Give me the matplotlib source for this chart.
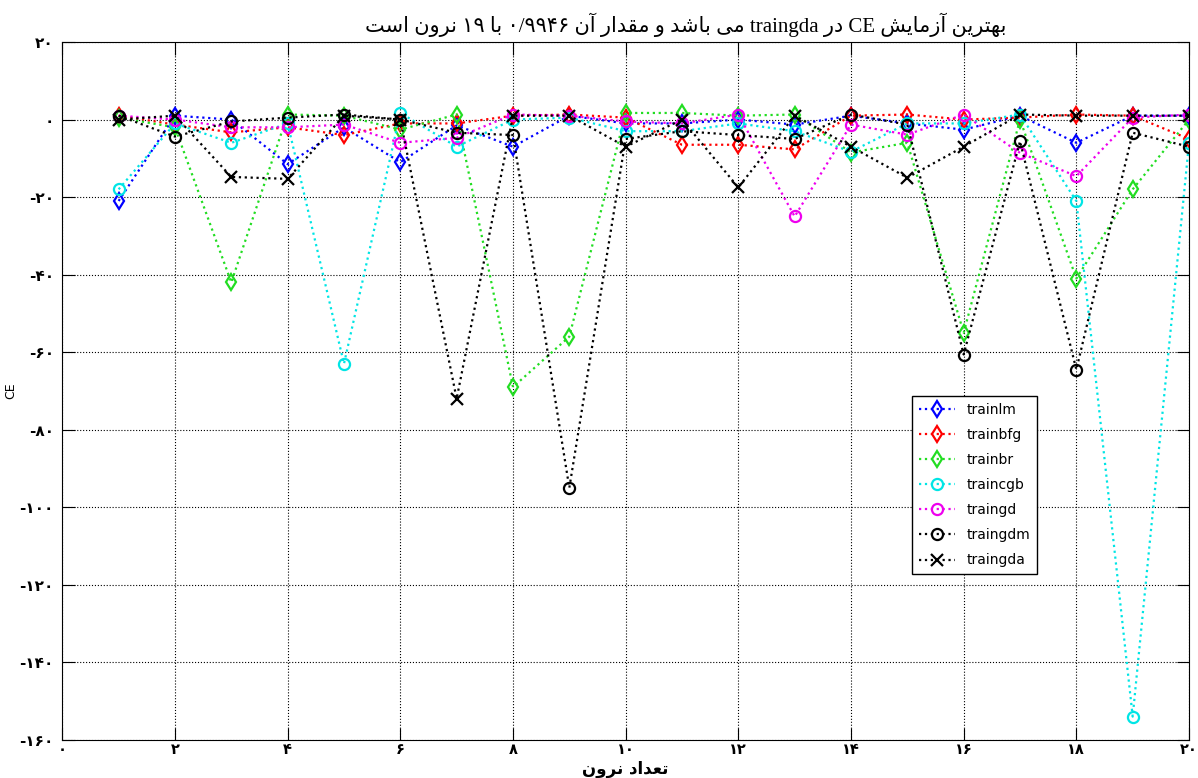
import numpy as np
import matplotlib
matplotlib.use("Agg")
import matplotlib.pyplot as plt

# neuron counts and CE of each training function
neurons = list(range(1, 21))

trainlm = [-21, 1, 0, -11.5, -2, -11, -1.5, -7, 1, -1, -1, 0, -1.3, 1, -1, -2.6, 1, -6, 1, 1]
trainbfg = [1, -1.3, -3.3, -2, -4, -1, -1, 1, 1.3, 0.5, -6.5, -6.5, -7.7, 1, 1.3, 0, 0.5, 1.3, 1, -5]
trainbr = [0.5, -2, -42, 1.3, 1, -2.6, 1.3, -69, -56, 1.7, 1.7, 1, 1.3, -8.5, -6, -55, 0, -41, -18, 0]
traincgb = [-18, -1, -6, -1, -63, 1.7, -7, 0, 0.5, -3, -3, -1, -3, -8.3, -1, -1, 1.3, -21, -154, -6]
traingd = [1, 0, -2, -2, -1.3, -6, -4.7, 1.3, 1, -0.5, -1, 1.3, -25, -1.3, -3.9, 1.3, -8.6, -14.6, 0.5, 1.3]
traingdm = [1, -4.4, -0.5, 0.5, 1.3, 0, -3.4, -4, -95, -5, -3, -4, -5, 1.3, -1.3, -60.6, -5.6, -64.5, -3.4, -7]
traingda = [0, 1, -14.8, -15.3, 1, 0, -72, 1, 1, -7, 0, -17.5, 1, -7, -15, -7, 1.3, 1, 1, 1]

x_ticks = list(range(0, 21, 2))
y_ticks = list(range(-160, 21, 20))

# words in reading order (right to left)
title_words = ["بهترین", "آزمایش", "CE", "در", "traingda", "می", "باشد", "و", "مقدار", "آن",
               "۰/۹۹۴۶", "با", "۱۹", "نرون", "است"]
xlabel_words = ["تعداد", "نرون"]


# matplotlib does no arabic joining or reordering, so pick the presentation
# forms by hand and lay the words out right to left
FORMS = {
    'ا': ('\uFE8D', '\uFE8E', None, None),
    'آ': ('\uFE81', '\uFE82', None, None),
    'د': ('\uFEA9', '\uFEAA', None, None),
    'ر': ('\uFEAD', '\uFEAE', None, None),
    'ز': ('\uFEAF', '\uFEB0', None, None),
    'و': ('\uFEED', '\uFEEE', None, None),
    'ب': ('\uFE8F', '\uFE90', '\uFE91', '\uFE92'),
    'ت': ('\uFE95', '\uFE96', '\uFE97', '\uFE98'),
    'س': ('\uFEB1', '\uFEB2', '\uFEB3', '\uFEB4'),
    'ش': ('\uFEB5', '\uFEB6', '\uFEB7', '\uFEB8'),
    'ع': ('\uFEC9', '\uFECA', '\uFECB', '\uFECC'),
    'ق': ('\uFED5', '\uFED6', '\uFED7', '\uFED8'),
    'م': ('\uFEE1', '\uFEE2', '\uFEE3', '\uFEE4'),
    'ن': ('\uFEE5', '\uFEE6', '\uFEE7', '\uFEE8'),
    'ه': ('\uFEE9', '\uFEEA', '\uFEEB', '\uFEEC'),
    'ی': ('\uFBFC', '\uFBFD', '\uFBFE', '\uFBFF'),
}


def shape_word(w):
    if not any(c in FORMS for c in w):
        return w
    out = []
    for i, c in enumerate(w):
        f = FORMS[c]
        prev = w[i - 1] if i > 0 else None
        nxt = w[i + 1] if i < len(w) - 1 else None
        join_prev = prev is not None and FORMS[prev][2] is not None
        join_next = nxt is not None and f[2] is not None
        if join_prev and join_next:
            out.append(f[3])
        elif join_prev:
            out.append(f[1])
        elif join_next:
            out.append(f[2])
        else:
            out.append(f[0])
    return "".join(reversed(out))


def shape(words):
    return " ".join(shape_word(w) for w in reversed(words))


FA_DIGITS = str.maketrans("0123456789", "۰۱۲۳۴۵۶۷۸۹")


def fa(n):
    return str(n).translate(FA_DIGITS)


fig = plt.figure(figsize=(11.98, 7.78), dpi=100)
ax = fig.add_axes([0.052, 0.049, 0.9405, 0.897])

series = [
    (trainlm, 'b', 'd', 'trainlm'),
    (trainbfg, 'r', 'd', 'trainbfg'),
    (trainbr, '#22dd22', 'd', 'trainbr'),
    (traincgb, '#00e5e5', 'o', 'traincgb'),
    (traingd, '#ee00ee', 'o', 'traingd'),
    (traingdm, 'k', 'o', 'traingdm'),
    (traingda, 'k', 'x', 'traingda'),
]
for vals, c, m, lab in series:
    ax.plot(neurons, vals, linestyle=':', color=c, marker=m, markersize=8,
            markerfacecolor='none', markeredgewidth=1.6, linewidth=1.6, label=lab)

ax.set_xlim(0, 20)
ax.set_ylim(-160, 20)
ax.set_xticks(x_ticks)
ax.set_yticks(y_ticks)
ax.set_xticklabels([fa(v) for v in x_ticks], fontweight='bold', fontsize=10.5)
ax.set_yticklabels([fa(v) for v in y_ticks], fontweight='bold', fontsize=11)
ax.tick_params(direction='in', length=9, top=True, right=True)
ax.tick_params(axis='x', pad=1.5)
ax.tick_params(axis='y', pad=6)
ax.grid(True, linestyle=':', color='k', linewidth=0.8)

ax.set_title(shape(title_words), fontsize=15, family=['Liberation Serif', 'DejaVu Sans'],
             pad=7, x=0.553)
ax.set_xlabel(shape(xlabel_words), fontsize=12, fontweight='bold')
ax.xaxis.set_label_coords(0.5, -0.029)
ax.set_ylabel("CE", fontsize=9, labelpad=2)

leg = ax.legend(loc='upper left', bbox_to_anchor=(0.748, 0.503), fancybox=False,
                framealpha=1, edgecolor='k', fontsize=10, handlelength=2.6,
                borderpad=0.5, labelspacing=0.8)
leg.get_frame().set_linewidth(1.0)

fig.savefig("out.png", dpi=100)
